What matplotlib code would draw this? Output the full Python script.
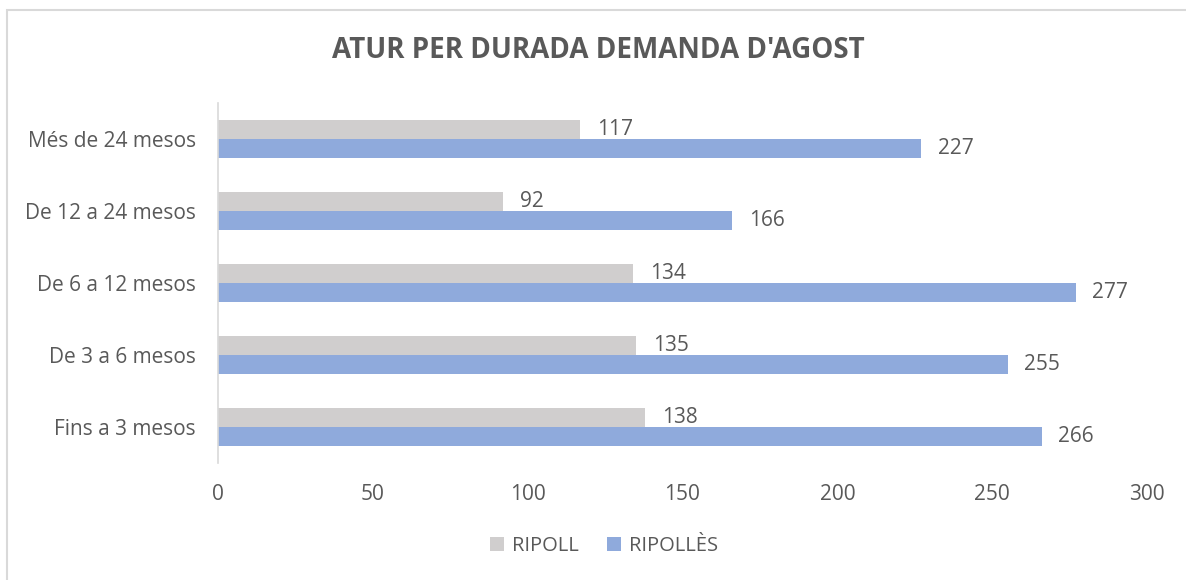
import matplotlib.pyplot as plt
from matplotlib.patches import Rectangle

categories = ['Fins a 3 mesos', 'De 3 a 6 mesos', 'De 6 a 12 mesos',
              'De 12 a 24 mesos', 'Més de 24 mesos']
ripoll = [138, 135, 134, 92, 117]
ripolles = [266, 255, 277, 166, 227]
series_names = ['RIPOLL', 'RIPOLLÈS']
xticks = [0, 50, 100, 150, 200, 250, 300]

plt.rcParams['font.family'] = ['Open Sans', 'DejaVu Sans']
text_color = '#595959'
gray = '#d0cece'
blue = '#8faadc'

fig = plt.figure(figsize=(11.86, 5.8), dpi=100)
fig.patches.append(Rectangle((7 / 1186, -0.1), 1.2, 1 - 10 / 580 + 0.1,
                             transform=fig.transFigure, fill=False,
                             edgecolor='#d9d9d9', linewidth=1.5))

ax = fig.add_axes([218 / 1186, 1 - 463 / 580, 929 / 1186, 360 / 580])
h = 0.26
ypos = list(range(len(categories)))
b1 = ax.barh([y + h / 2 for y in ypos], ripoll, height=h, color=gray,
             label=series_names[0])
b2 = ax.barh([y - h / 2 for y in ypos], ripolles, height=h, color=blue,
             label=series_names[1])

for bars, vals in ((b1, ripoll), (b2, ripolles)):
    for bar, v in zip(bars, vals):
        ax.annotate(str(v), (v, bar.get_y() + bar.get_height() / 2),
                    xytext=(12, 0), textcoords='offset points',
                    va='center', ha='left', fontsize=15, color=text_color)

ax.set_xlim(0, 300)
ax.set_ylim(-0.5, 4.5)
ax.set_xticks(xticks)
ax.set_yticks(ypos)
ax.set_yticklabels(categories)
ax.tick_params(length=0, labelsize=15, labelcolor=text_color)
ax.tick_params(axis='x', pad=15)
ax.tick_params(axis='y', pad=16)
for s in ('top', 'right', 'bottom'):
    ax.spines[s].set_visible(False)
ax.spines['left'].set_color('#d9d9d9')
ax.spines['left'].set_linewidth(1.2)

fig.text(598 / 1186, 1 - 50 / 580, "ATUR PER DURADA DEMANDA D'AGOST",
         ha='center', va='center', fontsize=20, fontweight='bold',
         color=text_color)

fig.legend(handles=[b1, b2], loc='center', bbox_to_anchor=(604 / 1186, 1 - 546 / 580),
           ncol=2, frameon=False, fontsize=14.5, labelcolor=text_color,
           handlelength=0.7, handleheight=0.7, handletextpad=0.4,
           columnspacing=1.4)

fig.savefig('out.png', dpi=100)
